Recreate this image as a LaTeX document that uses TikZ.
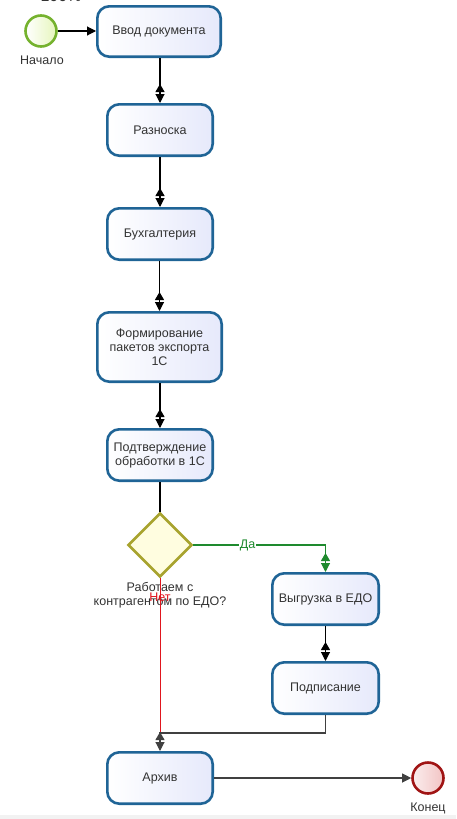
\documentclass[tikz,border=0pt]{standalone}
\usepackage{fontspec}
\setmainfont{Liberation Sans}
\usetikzlibrary{arrows.meta,shapes.geometric,calc}
\definecolor{boxblue}{HTML}{1F6496}
\definecolor{boxfill}{HTML}{E6E9FB}
\definecolor{textgray}{HTML}{333333}
\definecolor{startgreen}{HTML}{75B22E}
\definecolor{startfill}{HTML}{E6F6BC}
\definecolor{endred}{HTML}{A01414}
\definecolor{endfill}{HTML}{F2C4C4}
\definecolor{olive}{HTML}{A8A32E}
\definecolor{dfill}{HTML}{FFFDE0}
\definecolor{yesgreen}{HTML}{1E8A2E}
\definecolor{norred}{HTML}{E0161E}
\begin{document}
\begin{tikzpicture}[x=1pt,y=-1pt,
  task/.style={draw=boxblue, line width=2.6pt, rounded corners=12pt,
    left color=white, right color=boxfill, text=textgray,
    font=\fontsize{12.5}{14}\selectfont, align=center, inner sep=0pt},
  lbl/.style={text=textgray, font=\fontsize{12.5}{14}\selectfont, align=center, inner sep=0pt},
  dbl/.style={line width=1.1pt, -{Triangle[reversed,length=8pt,width=9pt,sep=2pt]Triangle[length=9pt,width=9pt]}},
  single/.style={line width=1.1pt, -{Triangle[length=9pt,width=9pt]}}
]
\useasboundingbox (0,0) rectangle (456,819);
\clip (0,0) rectangle (456,819);
\fill[black!5] (0,815) rectangle (456,819);
\node[text=textgray, font=\fontsize{16}{18}\selectfont] (pct) at (61,-4) {100\%};

\node[circle, draw=startgreen, line width=2.6pt, left color=white, right color=startfill, minimum size=31pt, inner sep=0pt] (start) at (41,31) {};
\node[lbl] (startlbl) at (42,60) {Начало};

\node[task, minimum width=123.4pt, minimum height=50.4pt] (b1) at (159,31.5) {Ввод документа};
\node[task, minimum width=105.4pt, minimum height=51.4pt] (b2) at (160,130) {Разноска};
\node[task, minimum width=105.4pt, minimum height=51.4pt] (b3) at (160,234) {Бухгалтерия};
\node[task, minimum width=124.4pt, minimum height=69.4pt] (b4) at (159.5,347) {Формирование\\пакетов экспорта\\1С};
\node[task, minimum width=105.4pt, minimum height=51.4pt] (b5) at (160,455) {Подтверждение\\обработки в 1С};
\node[diamond, draw=olive, line width=2.6pt, fill=dfill, minimum width=64pt, minimum height=64pt, inner sep=0pt, aspect=1] (dia) at (160,545) {};
\node[lbl] (dlbl) at (160,595) {Работаем с\\контрагентом по ЕДО?};
\node[task, minimum width=106.4pt, minimum height=51.4pt] (b6) at (325.5,599) {Выгрузка в ЕДО};
\node[task, minimum width=106.4pt, minimum height=51.4pt] (b7) at (325.5,688) {Подписание};
\node[task, minimum width=105.4pt, minimum height=51.4pt] (arch) at (160,778) {Архив};
\node[circle, draw=endred, line width=2.6pt, left color=white!70!endfill, right color=endfill, minimum size=31pt, inner sep=0pt] (end) at (428,778) {};
\node[lbl] (endlbl) at (428,808) {Конец};

\coordinate (join) at (160,733);

\draw[single] (start.east) -- (start.east -| b1.west);
\draw[dbl] (b1.south -| b2.north) -- (b2.north);
\draw[dbl] (b2) -- (b3);
\draw[dbl] (b3.south -| b4.north) -- (b4.north);
\draw[dbl] (b4.south -| b5.north) -- (b5.north);
\draw[line width=1.1pt] (b5) -- (dia);
\draw[dbl, draw=yesgreen] (dia.east) -- node[pos=0.41, fill=white, inner sep=1pt, text=yesgreen, font=\fontsize{12.5}{14}\selectfont] (yes) {Да} (dia.east -| b6.north) -- (b6.north);
\draw[dbl] (b6) -- (b7);
\draw[line width=0.8pt, draw=norred] (dia.south) -- node[pos=0.12, text=norred, font=\fontsize{12.5}{14}\selectfont, inner sep=0pt] (no) {Нет} (join);
\draw[dbl, draw=black!75] (b7.south) |- (join) -- (arch.north);
\draw[single, draw=black!75] (arch.east) -- (end.west);
\end{tikzpicture}
\end{document}
